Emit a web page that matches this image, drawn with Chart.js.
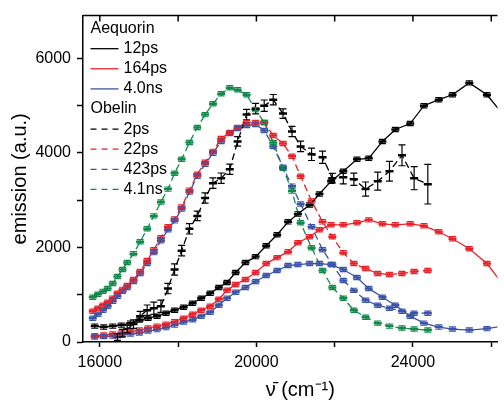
<!DOCTYPE html>
<html>
<head>
<meta charset="utf-8">
<script src="https://cdn.jsdelivr.net/npm/chart.js@4.4.0/dist/chart.umd.min.js"></script>
<style>
    html, body { margin: 0; padding: 0; background: #fff; }
    #wrap { width: 504px; height: 402px; position: relative; }
</style>
</head>
<body>
<div id="wrap"><canvas id="emissionChart"></canvas></div>
<script>
// Волновые числа (см-1) для двух белков
const aequorinX = [15870, 16100, 16330, 16550, 16780, 17010, 17230, 17460, 17690, 17910, 18140, 18370, 18590, 18820, 19040, 19250, 19470, 19720, 19980, 20250, 20530, 20810, 21060, 21360, 21610, 21910, 22220, 22570, 22870, 23220, 23550, 23930, 24280, 24660, 25010, 25440, 25890, 26320];
const obelinX = [15820, 15950, 16080, 16200, 16330, 16450, 16580, 16700, 16860, 17030, 17210, 17380, 17560, 17740, 17910, 18090, 18290, 18490, 18690, 18890, 19100, 19320, 19520, 19750, 19980, 20200, 20430, 20680, 20910, 21130, 21410, 21690, 21940, 22220, 22490, 22790, 23100, 23400, 23720, 24030, 24380];

// Aequorin (сплошные линии)
const aeq12ps = [336, 315, 336, 357, 399, 462, 504, 546, 609, 672, 735, 819, 924, 1029, 1154, 1259, 1469, 1679, 1805, 2036, 2267, 2540, 2708, 2897, 3128, 3400, 3610, 3862, 3883, 4240, 4492, 4618, 4996, 5122, 5227, 5478, 5227, 4790];
const aeq164ps = [132, 147, 168, 189, 220, 252, 294, 336, 378, 430, 504, 588, 672, 756, 903, 1092, 1217, 1322, 1469, 1658, 1784, 1910, 2099, 2225, 2372, 2477, 2477, 2519, 2582, 2498, 2477, 2498, 2456, 2330, 2183, 1973, 1658, 1196];
const aeq4ns = [105, 115, 126, 147, 168, 189, 231, 262, 304, 357, 420, 472, 546, 630, 777, 924, 1050, 1154, 1280, 1406, 1511, 1616, 1637, 1658, 1658, 1637, 1532, 1364, 1133, 945, 777, 546, 399, 315, 273, 252, 283, 336];

// Obelin (пунктир); 2ps начинается с 6-й точки сетки
const obe2psStart = 5;
const obe2ps = [105, 189, 273, 378, 546, 672, 714, 756, 1130, 1532, 1931, 2393, 2666, 3044, 3358, 3463, 3652, 4240, 4807, 4933, 4996, 5122, 4828, 4450, 4135, 3967, 3904, 3463, 3484, 3442, 3232, 3400, 3610, 3946, 3463, 3337];
const obe2psErr = [70, 80, 80, 90, 100, 110, 130, 130, 110, 120, 110, 110, 100, 110, 110, 110, 110, 100, 110, 110, 120, 110, 100, 110, 110, 130, 130, 100, 140, 130, 150, 190, 210, 220, 245, 420];
const obe22ps = [651, 714, 777, 840, 924, 1029, 1112, 1196, 1322, 1490, 1721, 1952, 2204, 2435, 2603, 2855, 3211, 3547, 3799, 4030, 4303, 4429, 4534, 4639, 4639, 4639, 4366, 4198, 3925, 3505, 2981, 2540, 2225, 1889, 1658, 1553, 1448, 1427, 1448, 1490, 1511];
const obe423ps = [504, 588, 672, 756, 861, 966, 1070, 1154, 1280, 1448, 1658, 1889, 2141, 2372, 2561, 2813, 3169, 3505, 3757, 3988, 4240, 4408, 4513, 4576, 4597, 4471, 4135, 3694, 3295, 2918, 2435, 1952, 1637, 1301, 1091, 882, 777, 714, 651, 609, 609];
const obe41ns = [945, 1008, 1070, 1133, 1238, 1385, 1532, 1679, 1868, 2120, 2393, 2666, 2960, 3232, 3568, 3862, 4219, 4534, 4807, 5038, 5248, 5373, 5331, 5227, 4912, 4639, 4219, 3673, 3190, 2519, 1994, 1511, 1154, 924, 672, 525, 399, 336, 294, 273, 252];
const smallErr = 45;

// Деления и подписи осей
const xTicks = [16000, 18000, 20000, 22000, 24000, 26000];
const xTickLabels = [16000, 20000, 24000];
const yTicks = [0, 1000, 2000, 3000, 4000, 5000, 6000];
const yTickLabels = [0, 2000, 4000, 6000];

const BLACK = '#000000';
const RED = '#e8222b';
const BLUE = '#3a54a6';
const GREEN = '#11894a';

// Легенда: заголовки групп и записи
const legendRows = [
    { header: 'Aequorin' },
    { label: '12ps', color: BLACK, dash: [] },
    { label: '164ps', color: RED, dash: [] },
    { label: '4.0ns', color: BLUE, dash: [] },
    { header: 'Obelin' },
    { label: '2ps', color: BLACK, dash: [6, 5] },
    { label: '22ps', color: RED, dash: [6, 5] },
    { label: '423ps', color: BLUE, dash: [6, 5] },
    { label: '4.1ns', color: GREEN, dash: [6, 5] }
];

function toPoints(xs, ys, start) {
    const s = start || 0;
    return ys.map((y, i) => ({ x: xs[s + i], y: y }));
}

function series(label, xs, ys, color, dashed, errors, start) {
    return {
        label: label,
        data: toPoints(xs, ys, start),
        showLine: true,
        borderColor: color,
        backgroundColor: color,
        borderWidth: 1.3,
        borderDash: dashed ? [7, 4] : [],
        pointStyle: 'line',
        pointRadius: 4,
        pointBorderWidth: 2.5,
        pointBorderColor: color,
        errors: errors
    };
}

// Планки погрешностей
const errorBarsPlugin = {
    id: 'errorBars',
    afterDatasetsDraw(chart) {
        const ctx = chart.ctx;
        const xs = chart.scales.x, ys = chart.scales.y;
        const area = chart.chartArea;
        ctx.save();
        ctx.beginPath();
        ctx.rect(area.left, area.top, area.right - area.left, area.bottom - area.top);
        ctx.clip();
        ctx.setLineDash([]);
        ctx.lineWidth = 1.2;
        chart.data.datasets.forEach(ds => {
            ctx.strokeStyle = ds.borderColor;
            ds.data.forEach((p, i) => {
                const e = Array.isArray(ds.errors) ? ds.errors[i] : ds.errors;
                const x = xs.getPixelForValue(p.x);
                const y1 = ys.getPixelForValue(p.y + e);
                const y2 = ys.getPixelForValue(p.y - e);
                ctx.beginPath();
                ctx.moveTo(x, y1); ctx.lineTo(x, y2);
                ctx.moveTo(x - 3.5, y1); ctx.lineTo(x + 3.5, y1);
                ctx.moveTo(x - 3.5, y2); ctx.lineTo(x + 3.5, y2);
                ctx.stroke();
            });
        });
        ctx.restore();
    }
};

// Верхняя рамка и легенда
const framePlugin = {
    id: 'frame',
    afterDraw(chart) {
        const ctx = chart.ctx;
        const area = chart.chartArea;
        const xs = chart.scales.x;
        ctx.save();
        ctx.strokeStyle = '#000';
        ctx.lineWidth = 1.5;
        ctx.beginPath();
        ctx.moveTo(area.left, area.top);
        ctx.lineTo(area.right, area.top);
        xs.ticks.forEach(t => {
            const x = xs.getPixelForValue(t.value);
            ctx.moveTo(x, area.top);
            ctx.lineTo(x, area.top + 6);
        });
        ctx.stroke();

        ctx.font = '16px "Liberation Sans", Arial, sans-serif';
        ctx.textBaseline = 'middle';
        ctx.fillStyle = '#000';
        const x0 = area.left + 7.5;
        legendRows.forEach((row, i) => {
            const y = area.top + 13 + i * 20.1;
            if (row.header) {
                ctx.fillText(row.header, x0, y);
                return;
            }
            ctx.strokeStyle = row.color;
            ctx.lineWidth = 1.3;
            ctx.setLineDash(row.dash);
            ctx.beginPath();
            ctx.moveTo(x0, y);
            ctx.lineTo(x0 + 28, y);
            ctx.stroke();
            ctx.setLineDash([]);
            ctx.fillText(row.label, x0 + 33, y);
        });
        ctx.restore();
    }
};

document.addEventListener('DOMContentLoaded', function() {
    Chart.defaults.font.family = '"Liberation Sans", Arial, sans-serif';
    Chart.defaults.color = '#000';

    const ctx = document.getElementById('emissionChart').getContext('2d');
    new Chart(ctx, {
        type: 'scatter',
        data: {
            datasets: [
                series('Aequorin 12ps', aequorinX, aeq12ps, BLACK, false, smallErr),
                series('Aequorin 164ps', aequorinX, aeq164ps, RED, false, smallErr),
                series('Aequorin 4.0ns', aequorinX, aeq4ns, BLUE, false, smallErr),
                series('Obelin 2ps', obelinX, obe2ps, BLACK, true, obe2psErr, obe2psStart),
                series('Obelin 22ps', obelinX, obe22ps, RED, true, smallErr),
                series('Obelin 423ps', obelinX, obe423ps, BLUE, true, smallErr),
                series('Obelin 4.1ns', obelinX, obe41ns, GREEN, true, smallErr)
            ]
        },
        options: {
            responsive: true,
            maintainAspectRatio: false,
            animation: false,
            layout: { padding: { top: 13, right: 0, left: 0, bottom: 0 } },
            plugins: {
                legend: { display: false },
                tooltip: { enabled: false }
            },
            scales: {
                x: {
                    type: 'linear',
                    min: 15570,
                    max: 26160,
                    afterBuildTicks: function(scale) {
                        scale.ticks = xTicks.map(v => ({ value: v }));
                    },
                    ticks: {
                        autoSkip: false,
                        maxRotation: 0,
                        padding: 6,
                        font: { size: 16 },
                        callback: function(value) {
                            return xTickLabels.includes(value) ? String(value) : '';
                        }
                    },
                    grid: { drawOnChartArea: false, tickLength: 5, tickColor: '#000', tickWidth: 1.5 },
                    border: { color: '#000', width: 1.5 },
                    title: {
                        display: true,
                        text: '\u2002\u2002ν̄ (cm⁻¹)',
                        font: { size: 20 },
                        padding: { top: 11, bottom: 0 }
                    },
                    afterFit: function(scale) { scale.height = 60; }
                },
                y: {
                    min: 0,
                    max: 6900,
                    afterBuildTicks: function(scale) {
                        scale.ticks = yTicks.map(v => ({ value: v }));
                    },
                    ticks: {
                        autoSkip: false,
                        padding: 6,
                        font: { size: 16 },
                        callback: function(value) {
                            return yTickLabels.includes(value) ? String(value) : '';
                        }
                    },
                    grid: { drawOnChartArea: false, tickLength: 6, tickColor: '#000', tickWidth: 1.5 },
                    border: { color: '#000', width: 1.5 },
                    title: {
                        display: true,
                        text: 'emission (a.u.)',
                        font: { size: 20 },
                        padding: { top: 8, bottom: 0 }
                    },
                    afterFit: function(scale) { scale.width = 83; }
                }
            }
        },
        plugins: [errorBarsPlugin, framePlugin]
    });
});
</script>
</body>
</html>
